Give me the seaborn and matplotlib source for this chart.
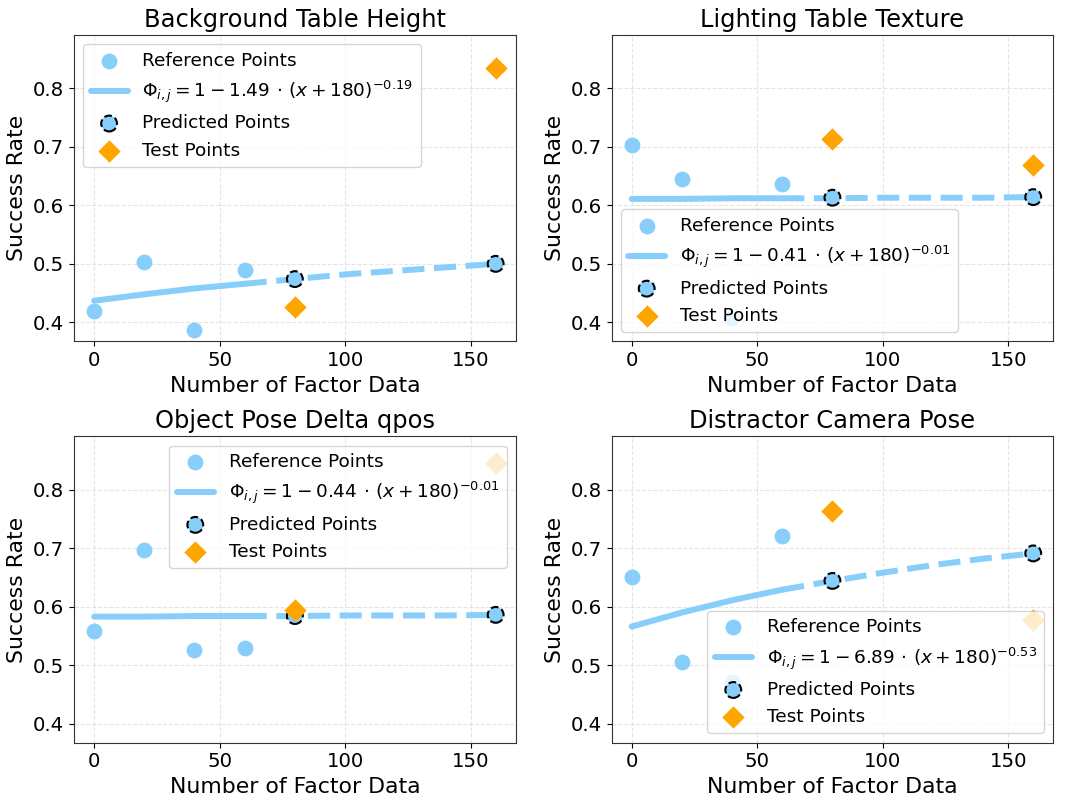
import matplotlib
matplotlib.use("Agg")
import matplotlib.pyplot as plt
import seaborn as sns
import pandas as pd

sns.set_style("ticks")
plt.rcParams['font.family'] = ['DejaVu Sans']
plt.rcParams['text.color'] = 'black'
plt.rcParams['axes.labelcolor'] = 'black'
plt.rcParams['xtick.color'] = 'black'
plt.rcParams['ytick.color'] = 'black'

# -------------------------------
# Data
# -------------------------------
titles = ["Background Table Height", "Lighting Table Texture",
          "Object Pose Delta qpos", "Distractor Camera Pose"]
fit_labels = [r"$\Phi_{i,j} = 1 - 1.49\,\cdot\,(x + 180)^{-0.19}$",
              r"$\Phi_{i,j} = 1 - 0.41\,\cdot\,(x + 180)^{-0.01}$",
              r"$\Phi_{i,j} = 1 - 0.44\,\cdot\,(x + 180)^{-0.01}$",
              r"$\Phi_{i,j} = 1 - 6.89\,\cdot\,(x + 180)^{-0.53}$"]
legend_locs = ["upper left", "lower left", "upper right", "lower right"]

ref_x = [0, 20, 40, 60]
ref_y = [[0.419, 0.503, 0.387, 0.490],
         [0.703, 0.645, 0.407, 0.637],
         [0.559, 0.696, 0.526, 0.529],
         [0.650, 0.505, 0.472, 0.720]]

curve_x = [0, 20, 40, 60, 80, 100, 120, 140, 160]
curve_y = [[0.437, 0.448, 0.458, 0.466, 0.474, 0.482, 0.488, 0.494, 0.500],
           [0.611, 0.611, 0.612, 0.612, 0.612, 0.613, 0.613, 0.613, 0.614],
           [0.583, 0.583, 0.584, 0.584, 0.584, 0.585, 0.585, 0.585, 0.586],
           [0.566, 0.590, 0.611, 0.629, 0.644, 0.658, 0.671, 0.682, 0.691]]

pred_x = [80, 160]
pred_y = [[0.474, 0.500],
          [0.613, 0.614],
          [0.584, 0.586],
          [0.644, 0.691]]

test_x = [80, 160]
test_y = [[0.426, 0.834],
          [0.713, 0.669],
          [0.595, 0.846],
          [0.763, 0.578]]

blue = "#87CEFA"
orange = "#FFA500"

fig, axes = plt.subplots(2, 2, figsize=(10.79, 8.08), dpi=100)
plt.subplots_adjust(left=0.0686, right=0.9762, bottom=0.0808, top=0.9567,
                    wspace=0.217, hspace=0.31)

for i, ax in enumerate(axes.flat):
    ax.grid(True, linestyle="--", color="#cccccc", alpha=0.5, linewidth=0.8)
    ax.set_axisbelow(True)

    sns.scatterplot(x=ref_x, y=ref_y[i], ax=ax, color=blue, s=130,
                    linewidth=0, label="Reference Points", zorder=3)

    curve = pd.DataFrame({"x": curve_x, "y": curve_y[i]})
    solid = curve[curve["x"] <= 60]
    dashed = curve[curve["x"] >= 60]
    sns.lineplot(data=solid, x="x", y="y", ax=ax, color=blue, linewidth=4.3,
                 label=fit_labels[i], zorder=2)
    sns.lineplot(data=dashed, x="x", y="y", ax=ax, color=blue, linewidth=4.3,
                 linestyle="--", label="_nolegend_", zorder=2)

    sns.scatterplot(x=pred_x, y=pred_y[i], ax=ax, color=blue, s=130,
                    edgecolor="black", linewidth=1.5, linestyle="--",
                    label="Predicted Points", zorder=4)
    sns.scatterplot(x=test_x, y=test_y[i], ax=ax, color=orange, marker="D",
                    s=130, linewidth=0, label="Test Points", zorder=5)

    ax.set_xlim(-8, 168)
    ax.set_ylim(0.3676, 0.891)
    ax.set_xticks([0, 50, 100, 150])
    ax.set_yticks([0.4, 0.5, 0.6, 0.7, 0.8])
    ax.tick_params(labelsize=14.2)
    ax.set_title(titles[i], fontsize=17.4)
    ax.set_xlabel("Number of Factor Data", fontsize=15.8)
    ax.set_ylabel("Success Rate", fontsize=15.8)
    for sp in ax.spines.values():
        sp.set_color("#333333")
    ax.legend(loc=legend_locs[i], fontsize=13.3, framealpha=0.8)

plt.savefig("out.png", dpi=100)
